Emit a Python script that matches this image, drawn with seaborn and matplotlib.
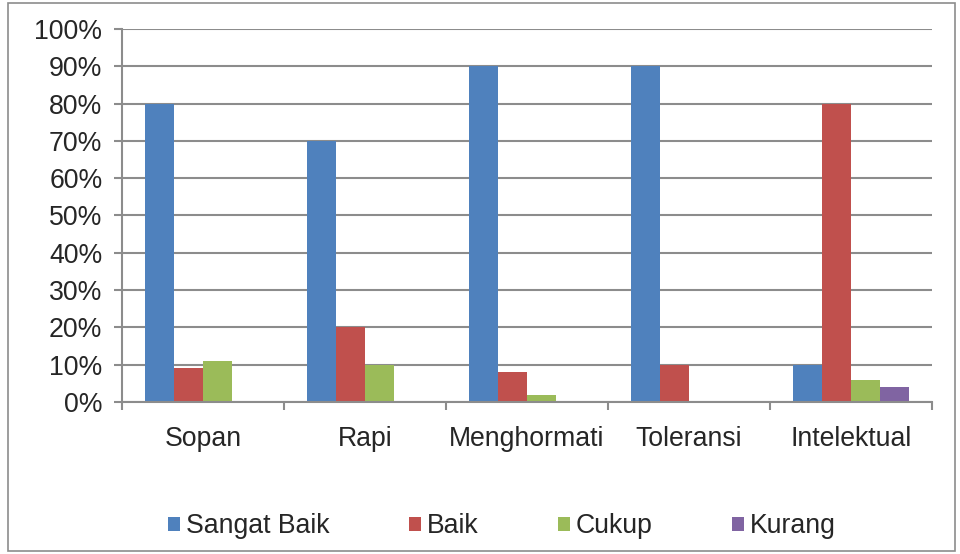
import matplotlib.pyplot as plt
import seaborn as sns
import pandas as pd
from matplotlib.patches import Rectangle
from matplotlib.ticker import FixedLocator

categories = ['Sopan', 'Rapi', 'Menghormati', 'Toleransi', 'Intelektual']
series = ['Sangat Baik', 'Baik', 'Cukup', 'Kurang']
sangat_baik = [80, 70, 90, 90, 10]
baik = [9, 20, 8, 10, 80]
cukup = [11, 10, 2, 0, 6]
kurang = [0, 0, 0, 0, 4]
colors = ['#4F81BD', '#C0504D', '#9BBB59', '#8064A2']

rows = []
for name, vals in zip(series, [sangat_baik, baik, cukup, kurang]):
    for cat, v in zip(categories, vals):
        rows.append({'Kategori': cat, 'Nilai': v, 'Seri': name})
df = pd.DataFrame(rows)

sns.set_style('white')
plt.rcParams['font.family'] = ['Liberation Sans', 'DejaVu Sans']
fs = 19.2

fig = plt.figure(figsize=(9.6, 5.54), dpi=100)
ax = fig.add_axes([0.127, 0.2744, 0.844, 0.6733])

sns.barplot(data=df, x='Kategori', y='Nilai', hue='Seri', palette=colors,
            width=0.72, gap=0, saturation=1, ax=ax, legend=True,
            edgecolor='none', linewidth=0)

ax.set_ylim(0, 100)
ax.set_xlim(-0.5, 4.5)
ax.set_yticks(range(0, 101, 10))
ax.set_yticklabels([f'{v}%' for v in range(0, 101, 10)], fontsize=fs)
ax.yaxis.grid(True, color='#8c8c8c', linewidth=1.5)
ax.set_axisbelow(True)
ax.set_xlabel('')
ax.set_ylabel('')

ax.tick_params(axis='x', which='major', length=0, pad=17, labelsize=fs)
ax.xaxis.set_minor_locator(FixedLocator([i - 0.5 for i in range(6)]))
ax.tick_params(axis='x', which='minor', length=6, width=1.5, color='#8c8c8c',
               bottom=True, direction='out')
ax.tick_params(axis='y', length=6, width=1.5, color='#8c8c8c', left=True,
               direction='out', pad=8)

for s in ['top', 'right']:
    ax.spines[s].set_visible(False)
for s in ['left', 'bottom']:
    ax.spines[s].set_color('#8c8c8c')
    ax.spines[s].set_linewidth(1.5)

handles, labels = ax.get_legend_handles_labels()
ax.get_legend().remove()
fig.legend(handles, labels, loc='center', bbox_to_anchor=(0.523, 0.05),
           ncol=4, frameon=False, fontsize=fs, handlelength=0.45,
           handleheight=0.45, handletextpad=0.2, columnspacing=3.0)

fig.patches.append(Rectangle((8 / 960, 3 / 554), 947 / 960, 548 / 554,
                             transform=fig.transFigure, fill=False,
                             edgecolor='#8c8c8c', linewidth=1.2))

plt.savefig('out.png', dpi=100)
